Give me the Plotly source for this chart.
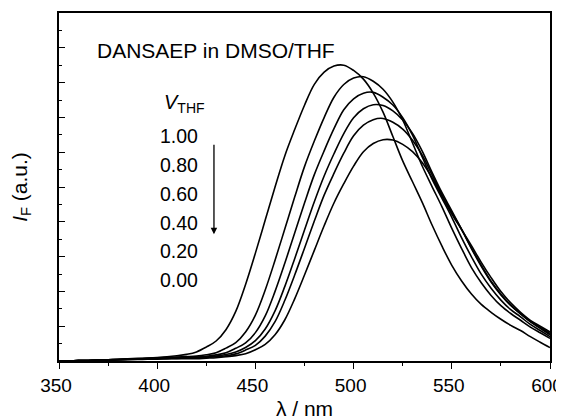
import plotly.graph_objects as go

wavelength = list(range(350, 601, 5))

v_thf_labels = ["1.00", "0.80", "0.60", "0.40", "0.20", "0.00"]

i_100 = [0.00, 0.01, 0.02, 0.03, 0.05, 0.07, 0.10, 0.12, 0.15, 0.17,
         0.20, 0.24, 0.30, 0.38, 0.52, 0.80, 1.15, 1.80, 2.85, 4.40,
         6.20, 8.10, 10.00, 11.80, 13.30, 14.70, 15.90, 16.60, 16.95, 17.00,
         16.70, 16.20, 15.40, 14.30, 12.90, 11.50, 10.30, 9.10, 7.80, 6.60,
         5.50, 4.60, 3.85, 3.25, 2.80, 2.40, 2.05, 1.75, 1.40, 1.08, 0.77]
i_080 = [0.00, 0.01, 0.02, 0.03, 0.05, 0.07, 0.09, 0.11, 0.13, 0.15,
         0.17, 0.20, 0.23, 0.25, 0.28, 0.36, 0.48, 0.74, 1.06, 1.67,
         2.64, 4.08, 5.79, 7.60, 9.42, 11.17, 12.64, 13.99, 15.16, 15.89,
         16.26, 16.34, 16.08, 15.62, 14.88, 13.85, 12.53, 11.19, 10.01, 8.86,
         7.62, 6.46, 5.37, 4.50, 3.77, 3.18, 2.73, 2.34, 1.95, 1.62, 1.30]
i_060 = [0.00, 0.01, 0.02, 0.03, 0.05, 0.07, 0.09, 0.10, 0.12, 0.14,
         0.16, 0.18, 0.20, 0.21, 0.22, 0.27, 0.35, 0.47, 0.73, 1.04,
         1.63, 2.59, 4.00, 5.63, 7.35, 9.08, 10.71, 12.08, 13.35, 14.44,
         15.07, 15.39, 15.44, 15.16, 14.71, 13.98, 12.98, 11.71, 10.44, 9.35,
         8.26, 7.08, 5.99, 4.99, 4.18, 3.50, 2.95, 2.54, 2.10, 1.75, 1.40]
i_040 = [0.00, 0.01, 0.02, 0.03, 0.05, 0.06, 0.08, 0.10, 0.11, 0.13,
         0.15, 0.16, 0.17, 0.18, 0.18, 0.22, 0.28, 0.37, 0.52, 0.78,
         1.17, 1.84, 2.88, 4.29, 5.88, 7.53, 9.15, 10.63, 11.91, 13.07,
         13.98, 14.50, 14.73, 14.68, 14.37, 13.85, 13.08, 12.05, 10.83, 9.67,
         8.63, 7.56, 6.46, 5.44, 4.54, 3.80, 3.19, 2.71, 2.25, 1.88, 1.50]
i_020 = [0.00, 0.01, 0.02, 0.03, 0.04, 0.06, 0.07, 0.09, 0.10, 0.12,
         0.13, 0.14, 0.15, 0.16, 0.16, 0.20, 0.24, 0.30, 0.41, 0.63,
         0.90, 1.43, 2.26, 3.49, 4.94, 6.48, 8.04, 9.53, 10.78, 11.94,
         12.94, 13.55, 13.87, 13.94, 13.72, 13.33, 12.69, 11.82, 10.69, 9.54,
         8.54, 7.56, 6.50, 5.51, 4.58, 3.84, 3.21, 2.71, 2.28, 1.93, 1.58]
i_000 = [0.00, 0.01, 0.02, 0.03, 0.04, 0.05, 0.06, 0.08, 0.09, 0.10,
         0.11, 0.12, 0.13, 0.13, 0.13, 0.16, 0.19, 0.24, 0.31, 0.42,
         0.65, 0.96, 1.51, 2.37, 3.57, 4.94, 6.36, 7.77, 9.08, 10.19,
         11.20, 12.03, 12.50, 12.72, 12.70, 12.45, 12.03, 11.39, 10.52, 9.47,
         8.45, 7.55, 6.63, 5.67, 4.79, 3.99, 3.34, 2.80, 2.34, 2.00, 1.67]

series = [i_100, i_080, i_060, i_040, i_020, i_000]

FONT = "Liberation Sans, Arial, Helvetica, sans-serif"

fig = go.Figure()
for name, ys in zip(v_thf_labels, series):
    fig.add_trace(go.Scatter(x=wavelength, y=ys, mode="lines", name=name,
                             line=dict(color="black", width=1.6, shape="spline"),
                             showlegend=False))

# page body adds an 8px offset; the figure is sized so the whole chart fits the window
fig.update_layout(
    width=556, height=412,
    margin=dict(l=51, r=14, t=5, b=59),
    paper_bgcolor="white", plot_bgcolor="white",
    font=dict(family=FONT, color="black"),
)
fig.update_xaxes(
    range=[350, 600], tickmode="linear", tick0=350, dtick=50,
    ticks="outside", ticklen=6, tickwidth=1.3, tickcolor="black",
    minor=dict(dtick=25, ticks="outside", ticklen=3, tickwidth=1.3, tickcolor="black"),
    showline=True, linecolor="black", linewidth=1.6, mirror=True,
    showgrid=False, zeroline=False, automargin=False,
    ticklabeloverflow="allow", ticklabelshift=-3,
    tickfont=dict(size=19, family=FONT),
    title=dict(text="λ / nm", font=dict(size=21, family=FONT), standoff=8),
)
fig.update_yaxes(
    range=[0, 20], tickmode="linear", tick0=0, dtick=2,
    ticks="inside", ticklen=6, tickwidth=1.3, tickcolor="black",
    minor=dict(dtick=1, ticks="inside", ticklen=3, tickwidth=1.3, tickcolor="black"),
    showticklabels=False,
    showline=True, linecolor="black", linewidth=1.6, mirror=True,
    showgrid=False, zeroline=False, automargin=False,
    title=dict(text="<i>I</i><sub>F</sub> (a.u.)", font=dict(size=21, family=FONT), standoff=25),
)

fig.add_annotation(x=368.3, y=17.87, xref="x", yref="y", xanchor="left", yanchor="middle",
                   text="DANSAEP in DMSO/THF", showarrow=False,
                   font=dict(size=21, family=FONT, color="black"))
fig.add_annotation(x=402.4, y=14.8, xref="x", yref="y", xanchor="left", yanchor="middle",
                   text="<i>V</i><sub>THF</sub>", showarrow=False,
                   font=dict(size=20, family=FONT, color="black"))
label_y = [12.93, 11.26, 9.59, 7.92, 6.31, 4.64]
for lab, yy in zip(v_thf_labels, label_y):
    fig.add_annotation(x=400.4, y=yy, xref="x", yref="y", xanchor="left", yanchor="middle",
                       text=lab, showarrow=False,
                       font=dict(size=19.5, family=FONT, color="black"))
fig.add_annotation(x=428.9, y=7.29, ax=428.9, ay=12.52, xref="x", yref="y",
                   axref="x", ayref="y", text="", showarrow=True,
                   arrowhead=2, arrowsize=1, arrowwidth=1.3, arrowcolor="black")

fig.write_html("out.html")
